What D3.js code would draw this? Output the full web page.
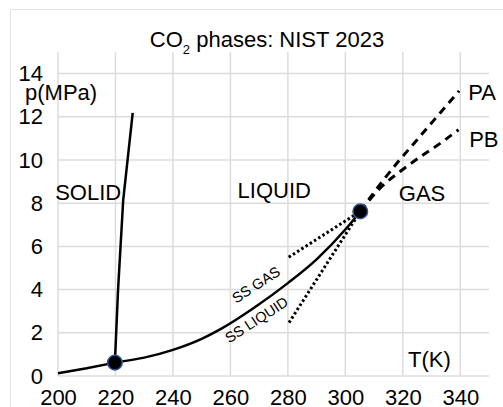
<!DOCTYPE html>
<html>
<head>
<meta charset="utf-8">
<script src="https://cdn.jsdelivr.net/npm/d3@7"></script>
<style>
  body { margin: 0; background: #fff; }
  svg { display: block; font-family: "Liberation Sans", Arial, sans-serif; }
</style>
</head>
<body>
<svg id="chart"></svg>
<script>
// values (T in K, p in MPa)
var xTicks = [200, 220, 240, 260, 280, 300, 320, 340];
var yTicks = [0, 2, 4, 6, 8, 10, 12, 14];

var triplePoint = [219.8, 0.62];
var criticalPoint = [305.2, 7.62];

var sublimation = [[200, 0.13], [210, 0.36], [219.8, 0.62]];
var melting = [[219.8, 0.62], [220.9, 3.99], [222.7, 8.16], [226.0, 12.18]];
var vaporization = [[219.8, 0.62], [230, 0.85], [240, 1.21], [250, 1.72], [256.4, 2.16],
                    [268, 3.14], [280, 4.30], [290, 5.40], [300, 6.78], [305.2, 7.62]];
var ssGas = [[280.3, 5.50], [305.2, 7.62]];
var ssLiquid = [[280.4, 2.47], [305.2, 7.62]];
var pathA = [[305.2, 7.62], [309.8, 8.47], [318.0, 9.86], [325.0, 10.94], [333.0, 12.18], [339.6, 13.2]];
var pathB = [[305.2, 7.62], [312.1, 8.70], [319.1, 9.47], [326.1, 10.15], [333.0, 10.77], [339.4, 11.40]];

var phaseLabels = [
  { text: "SOLID", T: 199, p: 8.15 },
  { text: "LIQUID", T: 262.5, p: 8.25 },
  { text: "GAS", T: 318.6, p: 8.1 },
  { text: "PA", T: 342.8, p: 12.8 },
  { text: "PB", T: 343.1, p: 10.6 },
  { text: "T(K)", T: 321.8, p: 0.42 }
];
var curveLabels = [
  { text: "SS GAS", T: 262.0, p: 3.35 },
  { text: "SS LIQUID", T: 259.6, p: 1.50 }
];

var width = 503, height = 407;
var svg = d3.select("#chart").attr("width", width).attr("height", height);

svg.append("rect")
  .attr("x", 10.5).attr("y", 9.5)
  .attr("width", 520).attr("height", 420)
  .attr("fill", "#fff").attr("stroke", "#e2e2e2");

var x = d3.scaleLinear().domain([200, 350]).range([58, 489]);
var y = d3.scaleLinear().domain([0, 15]).range([376, 52]);

// grid
var grid = svg.append("g").attr("stroke", "#dcdcdc").attr("stroke-width", 1.5);
grid.selectAll(".vx").data(xTicks).join("line")
  .attr("x1", d => x(d)).attr("x2", d => x(d))
  .attr("y1", y(0)).attr("y2", y(15));
grid.selectAll(".hy").data(yTicks).join("line")
  .attr("x1", x(200)).attr("x2", x(350))
  .attr("y1", d => y(d)).attr("y2", d => y(d));

// axes labels
var xAxis = svg.append("g")
  .attr("transform", "translate(0," + y(0) + ")")
  .call(d3.axisBottom(x).tickValues(xTicks).tickSize(0).tickPadding(13));
var yAxis = svg.append("g")
  .attr("transform", "translate(" + x(200) + ",0)")
  .call(d3.axisLeft(y).tickValues(yTicks).tickSize(0).tickPadding(15));
[xAxis, yAxis].forEach(function (a) {
  a.select(".domain").remove();
  a.selectAll("text").attr("font-size", 22).attr("fill", "#000")
    .attr("font-family", "Liberation Sans, Arial, sans-serif");
});

svg.append("text")
  .attr("x", 25).attr("y", 100)
  .attr("font-size", 22)
  .text("p(MPa)");

// title
var title = svg.append("text")
  .attr("x", 267).attr("y", 47)
  .attr("text-anchor", "middle")
  .attr("font-size", 22);
title.append("tspan").text("CO");
title.append("tspan").attr("font-size", 13).attr("dy", 7).text("2");
title.append("tspan").attr("dy", -7).text(" phases: NIST 2023");

var line = d3.line().x(d => x(d[0])).y(d => y(d[1]));
var smooth = d3.line().x(d => x(d[0])).y(d => y(d[1])).curve(d3.curveMonotoneX);

svg.append("path").datum(sublimation).attr("d", line)
  .attr("fill", "none").attr("stroke", "#000").attr("stroke-width", 2.5);
svg.append("path").datum(melting).attr("d", line)
  .attr("fill", "none").attr("stroke", "#000").attr("stroke-width", 2.5);
svg.append("path").datum(vaporization).attr("d", smooth)
  .attr("fill", "none").attr("stroke", "#000").attr("stroke-width", 2.5);

[ssGas, ssLiquid].forEach(function (s) {
  svg.append("path").datum(s).attr("d", line)
    .attr("fill", "none").attr("stroke", "#000")
    .attr("stroke-width", 3).attr("stroke-dasharray", "2.5,2.5");
});
[pathA, pathB].forEach(function (s) {
  svg.append("path").datum(s).attr("d", smooth)
    .attr("fill", "none").attr("stroke", "#000")
    .attr("stroke-width", 3).attr("stroke-dasharray", "8,6");
});

svg.selectAll(".pt").data([triplePoint, criticalPoint]).join("circle")
  .attr("cx", d => x(d[0])).attr("cy", d => y(d[1]))
  .attr("r", 7.3)
  .attr("fill", "#000").attr("stroke", "#2f5597").attr("stroke-width", 1.5);

svg.selectAll(".lbl").data(phaseLabels).join("text")
  .attr("x", d => x(d.T)).attr("y", d => y(d.p))
  .attr("font-size", 22)
  .text(d => d.text);

svg.selectAll(".clbl").data(curveLabels).join("text")
  .attr("transform", d => "translate(" + x(d.T) + "," + y(d.p) + ") rotate(-33)")
  .attr("font-size", 14.5)
  .text(d => d.text);
</script>
</body>
</html>
